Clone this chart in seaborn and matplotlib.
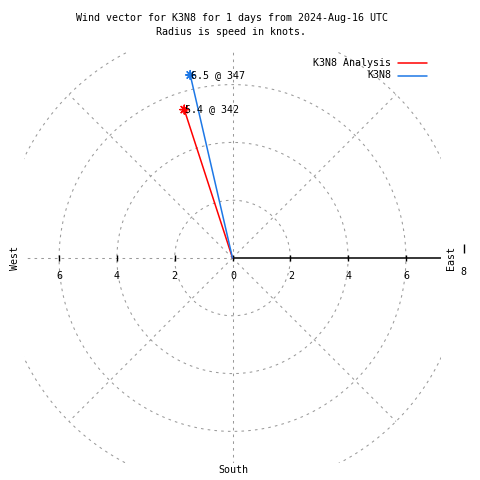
import numpy as np
import pandas as pd
import matplotlib
matplotlib.use("Agg")
import matplotlib.pyplot as plt
import seaborn as sns

# ---- data ----
series_names = ["K3N8 Analysis", "K3N8"]
speeds = [5.4, 6.5]          # knots
directions = [342, 347]      # degrees (compass)
series_colors = ["#ff0000", "#1e78e6"]
ring_radii = [2, 4, 6, 8]
tick_values = [-6, -4, -2, 0, 2, 4, 6]
tick_labels = ["6", "4", "2", "0", "2", "4", "6"]
title_text = "Wind vector for K3N8 for 1 days from 2024-Aug-16 UTC\nRadius is speed in knots."

sns.set_theme(style="white")
plt.rcParams["font.family"] = ["DejaVu Sans Mono"]
plt.rcParams["text.color"] = "black"
FS = 7.2
GRAY = "#9a9a9a"
DASH = (0, (2.5, 4))

fig = plt.figure(figsize=(4.8, 4.8), dpi=100)
ax = fig.add_axes([24 / 480, 17 / 480, 417 / 480, 411 / 480])
XL = 208.5 / 28.9
YT = 206 / 28.9
YB = 205 / 28.9
ax.set_xlim(-XL, XL)
ax.set_ylim(-YB, YT)
for s in ax.spines.values():
    s.set_visible(False)
ax.set_xticks([])
ax.set_yticks([])

# grid circles
th = np.linspace(0, 2 * np.pi, 361)
for r in ring_radii:
    ax.plot(r * np.cos(th), r * np.sin(th), color=GRAY, lw=0.75, ls=DASH, zorder=1)
# radial lines every 45 degrees (east is the solid axis, west drawn separately)
for a in [45, 90, 135, 225, 270, 315]:
    ar = np.deg2rad(a)
    ax.plot([0, 8 * np.cos(ar)], [0, 8 * np.sin(ar)], color=GRAY, lw=0.75, ls=DASH, zorder=1)
ax.plot([0, -XL], [0, 0], color=GRAY, lw=0.75, ls=DASH, zorder=1)

# solid radius axis to the east
ax.plot([0, XL], [0, 0], color="black", lw=1.1, zorder=2)
ax.vlines(tick_values, -0.12, 0.12, color="black", lw=1, zorder=2)
ax.vlines([8], 0.17, 0.5, color="black", lw=1, clip_on=False)
ax.text(8, -0.5, "8", ha="center", va="center", fontsize=FS, color="black", clip_on=False)

for v, lab in zip(tick_values, tick_labels):
    ax.text(v + (0.02 if v >= 0 else 0), -0.62, lab, ha="center", va="center",
            fontsize=FS, color="black")

# vectors
rows = []
pts = []
for name, sp, d in zip(series_names, speeds, directions):
    x = sp * np.sin(np.deg2rad(d))
    y = sp * np.cos(np.deg2rad(d))
    rows.append({"series": name, "x": 0.0, "y": 0.0, "order": 0})
    rows.append({"series": name, "x": x, "y": y, "order": 1})
    pts.append({"series": name, "x": x, "y": y, "label": f"{sp} @ {d}"})
df = pd.DataFrame(rows)
dp = pd.DataFrame(pts)
pal = dict(zip(series_names, series_colors))
sns.lineplot(data=df, x="x", y="y", hue="series", palette=pal, sort=False,
             estimator=None, units="series", legend=False, lw=1.1, ax=ax, zorder=3)
sns.scatterplot(data=dp, x="x", y="y", hue="series", palette=pal, marker=(8, 2, 0),
                s=40, linewidth=1.0, legend=False, ax=ax, zorder=4)
for _, r in dp.iterrows():
    ax.annotate(r["label"], (r["x"], r["y"]), xytext=(0.8, 0), textcoords="offset points",
                ha="left", va="center", fontsize=FS, color="black", zorder=5)
ax.set_xlabel("")
ax.set_ylabel("")

# labels around
fig.text(15 / 480, 1 - 258 / 480, "West", rotation=90, ha="center", va="center", fontsize=FS, color="black")
fig.text(451 / 480, 1 - 258 / 480, "East", rotation=90, ha="center", va="center", fontsize=FS, color="black")
fig.text(233 / 480, 1 - 470 / 480, "South", ha="center", va="center", fontsize=FS, color="black")

# title
fig.text(231.5 / 480, 1 - 25 / 480, title_text, ha="center", va="center", fontsize=FS,
         linespacing=1.4, multialignment="center", color="black")

# legend
for i, (name, c) in enumerate(zip(series_names, series_colors)):
    yy = 1 - (63 + 12.5 * i) / 480
    fig.text(391 / 480, yy, name, ha="right", va="center", fontsize=FS, color="black")
    fig.add_artist(plt.Line2D([398 / 480, 427 / 480], [yy, yy], color=c, lw=1.1))

fig.savefig("out.png", dpi=100)
